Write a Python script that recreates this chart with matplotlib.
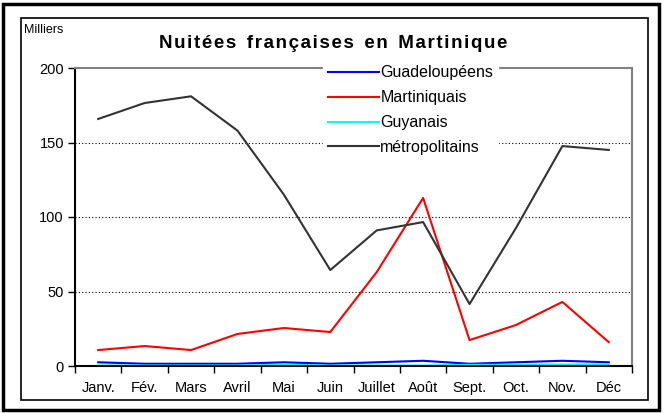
import matplotlib.pyplot as plt
from matplotlib.patches import Rectangle

plt.rcParams['font.family'] = ['Liberation Sans', 'DejaVu Sans']

mois = ['Janv.', 'Fév.', 'Mars', 'Avril', 'Mai', 'Juin', 'Juillet', 'Août',
        'Sept.', 'Oct.', 'Nov.', 'Déc']
guadeloupeens = [2.5, 1.5, 1.5, 1.5, 2.5, 1.5, 2.5, 3.5, 1.5, 2.5, 3.5, 2.5]
martiniquais = [10.7, 13.4, 10.7, 21.5, 25.5, 22.8, 63, 112.8, 17.4, 27.5, 43, 16]
guyanais = [0.3, 0.3, 0.3, 0.3, 0.8, 0.3, 0.3, 0.3, 0.8, 0.8, 1, 1]
metropolitains = [165.8, 176.5, 181, 158, 115, 64.4, 91, 96.6, 41.6, 92.6, 147.6, 145]

fig = plt.figure(figsize=(6.64, 4.13), dpi=100)
# outer and inner frames
fig.patches.append(Rectangle((3/664, 3/413), 656/664, 406/413, transform=fig.transFigure,
                             fill=False, lw=2.5, ec='black'))
fig.patches.append(Rectangle((21/664, 13/413), 627/664, 382/413, transform=fig.transFigure,
                             fill=False, lw=1.2, ec='black'))

ax = fig.add_axes([75/664, 1 - 366/413, 557/664, 298/413])
x = range(len(mois))
ax.plot(x, guadeloupeens, color='#0000ff', lw=1.5, label='Guadeloupéens')
ax.plot(x, martiniquais, color='#ff0000', lw=1.5, label='Martiniquais')
ax.plot(x, guyanais, color='#00ffff', lw=1.5, label='Guyanais')
ax.plot(x, metropolitains, color='#333333', lw=1.5, label='métropolitains')

ax.set_xlim(-0.5, 11.5)
ax.set_ylim(0, 200)
ax.set_yticks([0, 50, 100, 150, 200])
ax.set_xticks(x)
ax.set_xticklabels(mois, fontsize=10.5)
ax.set_xticks([i + 0.5 for i in range(-1, 12)], minor=True)
ax.tick_params(axis='x', which='major', length=0, pad=11)
ax.tick_params(axis='x', which='minor', length=5, direction='out', width=1)
ax.tick_params(axis='y', length=5, direction='out', width=1, labelsize=10.5, pad=3)
for v in [50, 100, 150]:
    ax.axhline(v, color='black', lw=0.8, ls=(0, (1, 2)), zorder=0)
ax.spines['top'].set_color('#808080')
ax.spines['right'].set_color('#808080')
for s in ax.spines.values():
    s.set_linewidth(1.5)

leg = ax.legend(loc='upper left', bbox_to_anchor=(0.445, 1.025), frameon=True,
                prop={'size': 11.5}, handlelength=3.2, handletextpad=0.1,
                labelspacing=0.62, borderpad=0.3, borderaxespad=0, fancybox=False)
leg.get_frame().set_edgecolor('white')
leg.get_frame().set_facecolor('white')
leg.get_frame().set_alpha(1)

titre = '  '.join('\u200a'.join(mot) for mot in 'Nuitées françaises en Martinique'.split())
fig.text(333/664, 1 - 43/413, titre, ha='center', va='center',
         fontsize=13.5, fontweight='bold')
fig.text(24/664, 1 - 30/413, 'Milliers', ha='left', va='center', fontsize=9)

fig.savefig('out.png', dpi=100)
